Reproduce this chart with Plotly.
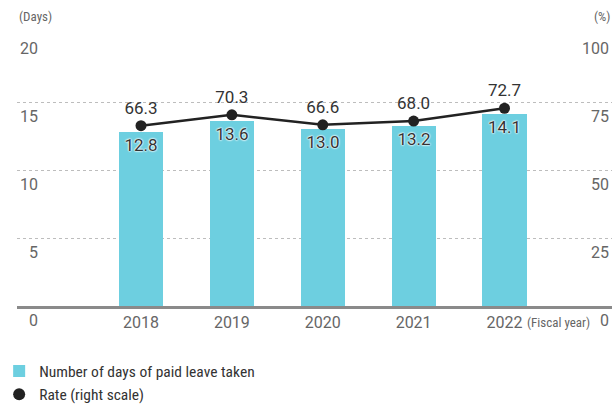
import plotly.graph_objects as go

years = ["2018", "2019", "2020", "2021", "2022"]
days = [12.8, 13.6, 13.0, 13.2, 14.1]
rate = [66.3, 70.3, 66.6, 68.0, 72.7]
left_ticks = [0, 5, 10, 15, 20]
right_ticks = [0, 25, 50, 75, 100]

BAR = "#6dcfe0"
DARK = "#222222"
GRAY = "#666666"
NUM_FONT = "Roboto, 'Open Sans', sans-serif"
NARROW = "'Liberation Sans Narrow', 'Roboto Condensed', Roboto, sans-serif"

fig = go.Figure()
fig.add_trace(go.Bar(
    x=years, y=days, name="Number of days of paid leave taken", legendgroup="a",
    marker=dict(color=BAR, line=dict(width=0)), width=0.485,
    text=[f"{v:.1f}" for v in days], textposition="inside", insidetextanchor="end",
    constraintext="none",
    insidetextfont=dict(family=NUM_FONT, size=17, color="#333333",
                        shadow="0 0 2px #fff, 0 0 2px #fff, 0 0 2px #fff"),
    hoverinfo="skip",
))
fig.add_trace(go.Scatter(
    x=years, y=rate, yaxis="y2", mode="lines+markers+text", showlegend=False,
    line=dict(color=DARK, width=2.5), marker=dict(color=DARK, size=11),
    text=[f"{v:.1f}" for v in rate], textposition="top center",
    textfont=dict(family=NUM_FONT, size=17, color="#333333"),
    hoverinfo="skip",
))
fig.add_trace(go.Scatter(
    x=[None], y=[None], mode="markers", name="Rate (right scale)", legendgroup="b",
    marker=dict(color=DARK, size=12),
))

fig.update_layout(
    width=614, height=405,
    margin=dict(l=17, r=2, t=34, b=99, autoexpand=False),
    paper_bgcolor="white", plot_bgcolor="white",
    bargap=0,
    xaxis=dict(
        type="category", range=[-1.3645, 5.183],
        showgrid=False, showline=True, linecolor="#8a8a8a", linewidth=2.5,
        ticks="", tickfont=dict(family=NUM_FONT, size=16, color=GRAY),
        zeroline=False, fixedrange=True,
    ),
    yaxis=dict(
        range=[0, 20], tickvals=left_ticks,
        showgrid=True, gridcolor="#bdbdbd", griddash="dot", gridwidth=1,
        zeroline=False, showline=False, ticks="",
        ticklabelposition="inside bottom", ticklabeloverflow="allow",
        ticktext=[("\u2007" if v < 10 else "") + str(v) for v in left_ticks],
        ticklabelshift=3,
        tickfont=dict(family=NUM_FONT, size=16, color=GRAY),
    ),
    yaxis2=dict(
        range=[0, 100], tickvals=right_ticks, overlaying="y", side="right",
        showgrid=False, zeroline=False, showline=False, ticks="",
        ticklabelposition="inside bottom", ticklabeloverflow="allow",
        ticklabelshift=3,
        tickfont=dict(family=NUM_FONT, size=16, color=GRAY),
    ),
    legend=dict(
        orientation="v", x=-0.03, xanchor="left", y=-0.178, yanchor="top",
        traceorder="grouped", tracegroupgap=0,
        font=dict(family=NARROW, size=15.5, color="#333333"),
        bgcolor="rgba(0,0,0,0)", itemclick=False,
    ),
    annotations=[
        dict(text="(Days)", xref="paper", yref="paper", x=0, y=1, xanchor="left",
             yanchor="bottom", yshift=8, showarrow=False,
             font=dict(family=NARROW, size=13, color=GRAY)),
        dict(text="(%)", xref="paper", yref="paper", x=1, y=1, xanchor="right",
             yanchor="bottom", yshift=8, showarrow=False,
             font=dict(family=NARROW, size=13, color=GRAY)),
        dict(text="(Fiscal year)", xref="x", yref="paper", x=4.59, y=0,
             xanchor="center", yanchor="top", yshift=-7, showarrow=False,
             font=dict(family=NARROW, size=13, color=GRAY)),
    ],
)

fig.write_html("out.html")
